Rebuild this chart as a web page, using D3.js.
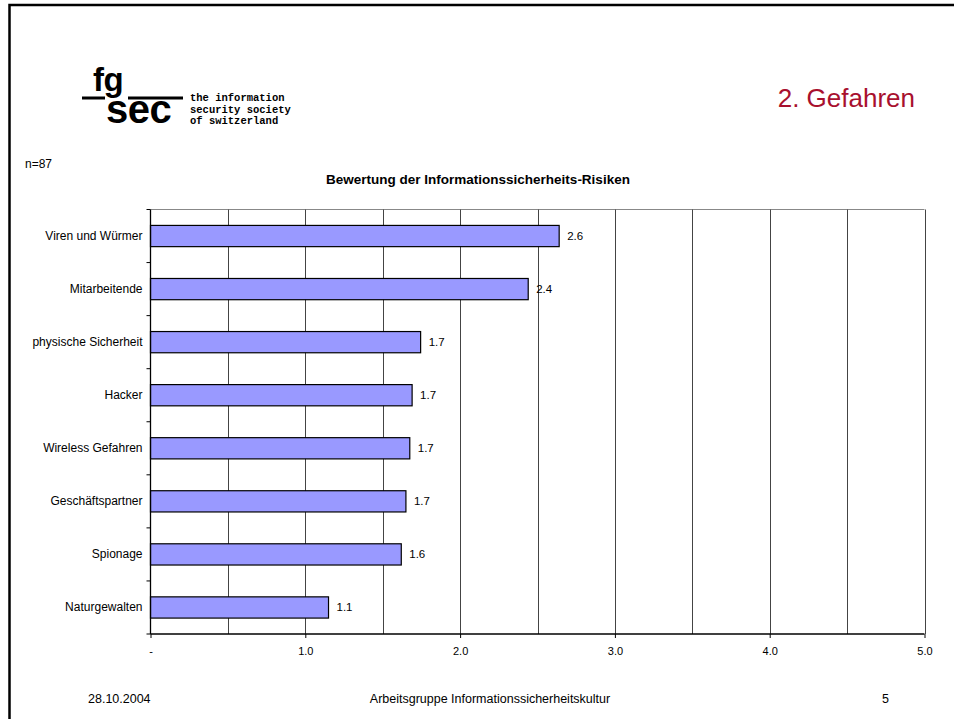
<!DOCTYPE html>
<html><head><meta charset="utf-8">
<script src="https://cdn.jsdelivr.net/npm/d3@7"></script>
<style>body{margin:0;background:#fff;}svg{display:block;font-family:"Liberation Sans",Arial,sans-serif;}</style>
</head><body>
<svg id="c" width="954" height="719"></svg>
<script>
const categories = ["Viren und Würmer","Mitarbeitende","physische Sicherheit","Hacker","Wireless Gefahren","Geschäftspartner","Spionage","Naturgewalten"];
const values = [2.64, 2.44, 1.745, 1.69, 1.675, 1.65, 1.62, 1.15];
const valueLabels = ["2.6","2.4","1.7","1.7","1.7","1.7","1.6","1.1"];
const xTicks = [0,1,2,3,4,5];
const xTickLabels = ["-","1.0","2.0","3.0","4.0","5.0"];
const gridValues = [0.5,1,1.5,2,2.5,3,3.5,4,4.5,5];

(function(){
const svg = d3.select("#c");
// slide border
svg.append("path").attr("d","M9.5,719 V5 H954").attr("fill","none").attr("stroke","#000").attr("stroke-width",2.5);

// logo
const logo = svg.append("g");
const lt = logo.append("text").attr("font-weight","bold").attr("letter-spacing",-0.5);
lt.append("tspan").attr("x",93).attr("y",91).attr("font-size",33).text("fg");
lt.append("tspan").attr("x",106).attr("y",123).attr("font-size",40).text("sec");
logo.append("rect").attr("x",82).attr("y",96.5).attr("width",23).attr("height",3);
logo.append("rect").attr("x",128).attr("y",96.5).attr("width",55).attr("height",3);
["the information","security society","of switzerland"].forEach((t,i)=>{
  logo.append("text").attr("x",190).attr("y",101+i*11.5).attr("font-family","'Liberation Mono','DejaVu Sans Mono',monospace")
    .attr("font-size",10.5).attr("font-weight","bold").text(t);
});

svg.append("text").attr("x",915).attr("y",107).attr("text-anchor","end").attr("font-size",26).attr("fill","#a8102e").text("2. Gefahren");
svg.append("text").attr("x",25).attr("y",168).attr("font-size",12).text("n=87");
svg.append("text").attr("x",478).attr("y",184).attr("text-anchor","middle").attr("font-size",13.5).attr("font-weight","bold").text("Bewertung der Informationssicherheits-Risiken");

const pL = 150.5, pR = 924.5, pT = 209.5, pB = 634;
const x = d3.scaleLinear().domain([0,5]).range([pL,pR]);
const y = d3.scaleBand().domain(categories).range([pT,pB]).paddingInner(0.6).paddingOuter(0.3);

// grid
svg.append("line").attr("x1",pL).attr("x2",pR).attr("y1",pT).attr("y2",pT).attr("stroke","#888");
svg.selectAll(".grid").data(gridValues).enter().append("line")
  .attr("x1",d=>Math.round(x(d))+0.5).attr("x2",d=>Math.round(x(d))+0.5).attr("y1",pT).attr("y2",pB)
  .attr("stroke","#444").attr("stroke-width",1);

// bars
svg.selectAll(".bar").data(categories).enter().append("rect")
  .attr("x",pL).attr("y",d=>y(d)).attr("width",(d,i)=>x(values[i])-pL).attr("height",y.bandwidth())
  .attr("fill","#9999ff").attr("stroke","#000").attr("stroke-width",1.2);

svg.selectAll(".vl").data(categories).enter().append("text")
  .attr("x",(d,i)=>x(values[i])+8).attr("y",d=>y(d)+y.bandwidth()/2+4).attr("font-size",11.5).text((d,i)=>valueLabels[i]);

// y axis
const yAxis = d3.axisLeft(y).tickSize(0).tickPadding(8);
const ya = svg.append("g").attr("transform",`translate(${pL},0)`).call(yAxis);
ya.select(".domain").remove();
ya.selectAll("text").attr("font-size",12).attr("font-family","'Liberation Sans',Arial,sans-serif").attr("fill","#000");
const step = (pB-pT)/categories.length;
const bounds = d3.range(categories.length+1).map(i=>pT+i*step);
svg.selectAll(".yt").data(bounds).enter().append("line")
  .attr("x1",pL-4).attr("x2",pL).attr("y1",d=>d).attr("y2",d=>d).attr("stroke","#000");
svg.append("line").attr("x1",pL).attr("x2",pL).attr("y1",pT).attr("y2",pB).attr("stroke","#000").attr("stroke-width",1.3);

// x axis
const xAxis = d3.axisBottom(x).tickValues(xTicks).tickSize(4).tickPadding(9).tickFormat((d,i)=>xTickLabels[i]);
const xa = svg.append("g").attr("transform",`translate(0,${pB})`).call(xAxis);
xa.select(".domain").attr("stroke","#000").attr("stroke-width",1.3).attr("d",`M${pL},0H${pR}`);
xa.selectAll("text").attr("font-size",11).attr("font-family","'Liberation Sans',Arial,sans-serif").attr("fill","#000");

// footer
svg.append("text").attr("x",88).attr("y",703).attr("font-size",12.5).text("28.10.2004");
svg.append("text").attr("x",490).attr("y",703).attr("text-anchor","middle").attr("font-size",12.5).text("Arbeitsgruppe Informationssicherheitskultur");
svg.append("text").attr("x",882).attr("y",703).attr("font-size",12.5).text("5");
})();
</script>
</body></html>
